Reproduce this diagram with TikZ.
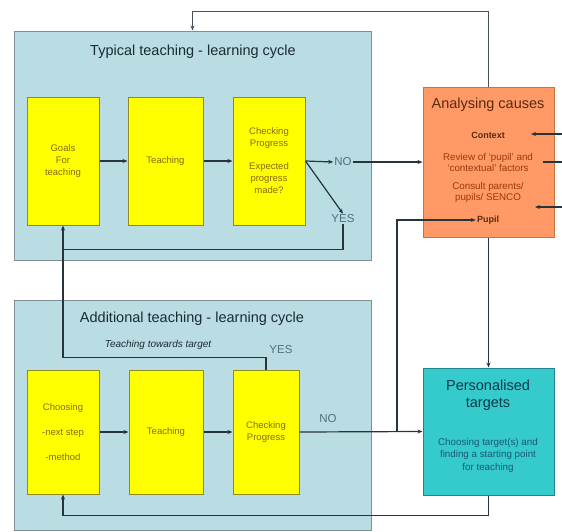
\documentclass[tikz,border=0pt]{standalone}
\usepackage{fontspec}
\setmainfont{Liberation Sans}
\usetikzlibrary{arrows.meta,calc}
\definecolor{panelfill}{HTML}{B9DDE3}
\definecolor{panelline}{HTML}{7E9096}
\definecolor{ybox}{HTML}{FFFF00}
\definecolor{yline}{HTML}{8E8C1E}
\definecolor{ytext}{HTML}{8A6A10}
\definecolor{orfill}{HTML}{FF9A66}
\definecolor{orline}{HTML}{C8743F}
\definecolor{ortitle}{HTML}{5A2A10}
\definecolor{ortext}{HTML}{9A3A10}
\definecolor{tlfill}{HTML}{35CACB}
\definecolor{tlline}{HTML}{22878C}
\definecolor{tltitle}{HTML}{0E3A48}
\definecolor{tltext}{HTML}{1A5A78}
\definecolor{ptitle}{HTML}{1C2A36}
\definecolor{yn}{HTML}{50707E}
\definecolor{conn}{HTML}{27343C}
\begin{document}
\begin{tikzpicture}[x=1pt,y=-1pt,
  panel/.style={draw=panelline,line width=1pt,fill=panelfill,minimum width=357pt,inner sep=0pt},
  ybx/.style={draw=yline,line width=1pt,fill=ybox,minimum height=126pt,inner sep=0pt,align=center,
    font=\fontsize{9.5}{12}\selectfont,text=ytext},
  ptitlestyle/.style={font=\fontsize{14.5}{16}\selectfont,text=ptitle,inner sep=1pt},
  ynlab/.style={font=\fontsize{11.5}{13}\selectfont,text=yn,inner sep=1pt},
  smallor/.style={font=\fontsize{9.8}{11}\selectfont,text=ortext,align=center,inner sep=1pt},
  boldor/.style={font=\fontsize{9}{11}\selectfont\bfseries,text=ortitle,inner sep=1pt},
  cn/.style={draw=conn,line width=1.2pt},
  arr/.style={cn,-{Stealth[length=5pt,width=4pt]}}]
\useasboundingbox (0,0) rectangle (562,531);
\fill[white] (0,0) rectangle (562,531);
% panels
\node[panel,minimum height=229pt] (topP) at (192.5,145.5) {};
\node[panel,minimum height=230pt] (botP) at (192.5,415) {};
\node[ptitlestyle] (topT) at (193,52) {Typical teaching - learning cycle};
\node[ptitlestyle] (botT) at (192,319) {Additional teaching - learning cycle};
% top cycle boxes
\node[ybx,minimum width=72pt,minimum height=128pt] (goals) at (63,161) {Goals\\For\\teaching};
\node[ybx,minimum width=75pt,minimum height=128pt] (teach1) at (165.5,161) {Teaching};
\node[ybx,minimum width=72pt,minimum height=128pt] (check1) at (269,161) {Checking\\Progress\\[11pt]Expected\\progress\\made?};
\node[ynlab] (no1) at (343,162) {NO};
\node[ynlab] (yes1) at (343,219) {YES};
% bottom cycle boxes
\node[ybx,minimum width=72pt,minimum height=124pt,font=\fontsize{9.5}{25}\selectfont] (choose) at (63,432) {Choosing\\-next step\\-method};
\node[ybx,minimum width=74pt,minimum height=124pt] (teach2) at (166,432) {Teaching};
\node[ybx,minimum width=66pt,minimum height=124pt] (check2) at (266,432) {Checking\\Progress};
\node[ynlab] (yes2) at (281,350) {YES};
\node[ynlab] (no2) at (328,419) {NO};
\node[font=\fontsize{10}{12}\selectfont\itshape,text=ptitle,inner sep=1pt] (tt) at (158,345) {Teaching towards target};
% analysing causes
\node[draw=orline,line width=1pt,fill=orfill,minimum width=131pt,minimum height=150pt,inner sep=0pt] (anal) at (488.5,162) {};
\node[font=\fontsize{14.5}{16}\selectfont,text=ortitle,inner sep=1pt] (analT) at (488,105) {Analysing causes};
\node[boldor] (ctx) at (488,135) {Context};
\node[smallor] (rev) at (488,162) {Review of `pupil' and\\`contextual' factors};
\node[smallor] (cons) at (488,192) {Consult parents/\\pupils/ SENCO};
\node[boldor] (pupil) at (488,220) {Pupil};
% personalised targets
\node[draw=tlline,line width=1pt,fill=tlfill,minimum width=131pt,minimum height=127pt,inner sep=0pt] (pers) at (488.5,431.5) {};
\node[font=\fontsize{14.5}{17}\selectfont,text=tltitle,align=center,inner sep=1pt] (persT) at (488,395) {Personalised\\targets};
\node[font=\fontsize{9.8}{12.5}\selectfont,text=tltext,align=center,inner sep=1pt] (persB) at (488,455) {Choosing target(s) and\\finding a starting point\\for teaching};
% coordinates
\coordinate (j1) at ($(goals.south)+(0,24)$);
\coordinate (j2) at ($(goals.south)+(0,132)$);
\coordinate (j3) at (397,432);
\coordinate (r1) at (562,134);
\coordinate (e1) at (531,134);
\coordinate (r2) at (562,162);
\coordinate (e2) at (543,162);
\coordinate (r3) at (562,207);
\coordinate (e3) at (535,207);
% connectors top cycle
\draw[arr] (goals) -- (teach1);
\draw[arr] (teach1) -- (check1);
\draw[arr] (check1.east) -- (no1.west);
\draw[arr] (no1.east) -- (anal.west);
\draw[arr] (check1.east) -- (yes1.north);
\draw[cn] (yes1.south) |- (j1);
% connectors bottom cycle
\draw[arr] (choose) -- (teach2);
\draw[arr] (teach2) -- (check2);
\draw[arr] (check2.north) |- (j2) -- (goals.south);
\draw[arr] (check2.east) -- (pers.west);
\draw[arr] (j3) |- (pupil.west);
% between right boxes
\draw[arr] (anal.south) -- (pers.north);
\draw[arr] (pers.south) -- ++(0,20) -| (choose.south);
\draw[arr,line width=1.3pt,draw=conn!85!white] (anal.north) -- ++(0,-75) -| (topP.north);
% incoming from right
\draw[arr] (r1) -- (e1);
\draw[cn] (r2) -- (e2);
\draw[arr] (r3) -- (e3);
\end{tikzpicture}
\end{document}
